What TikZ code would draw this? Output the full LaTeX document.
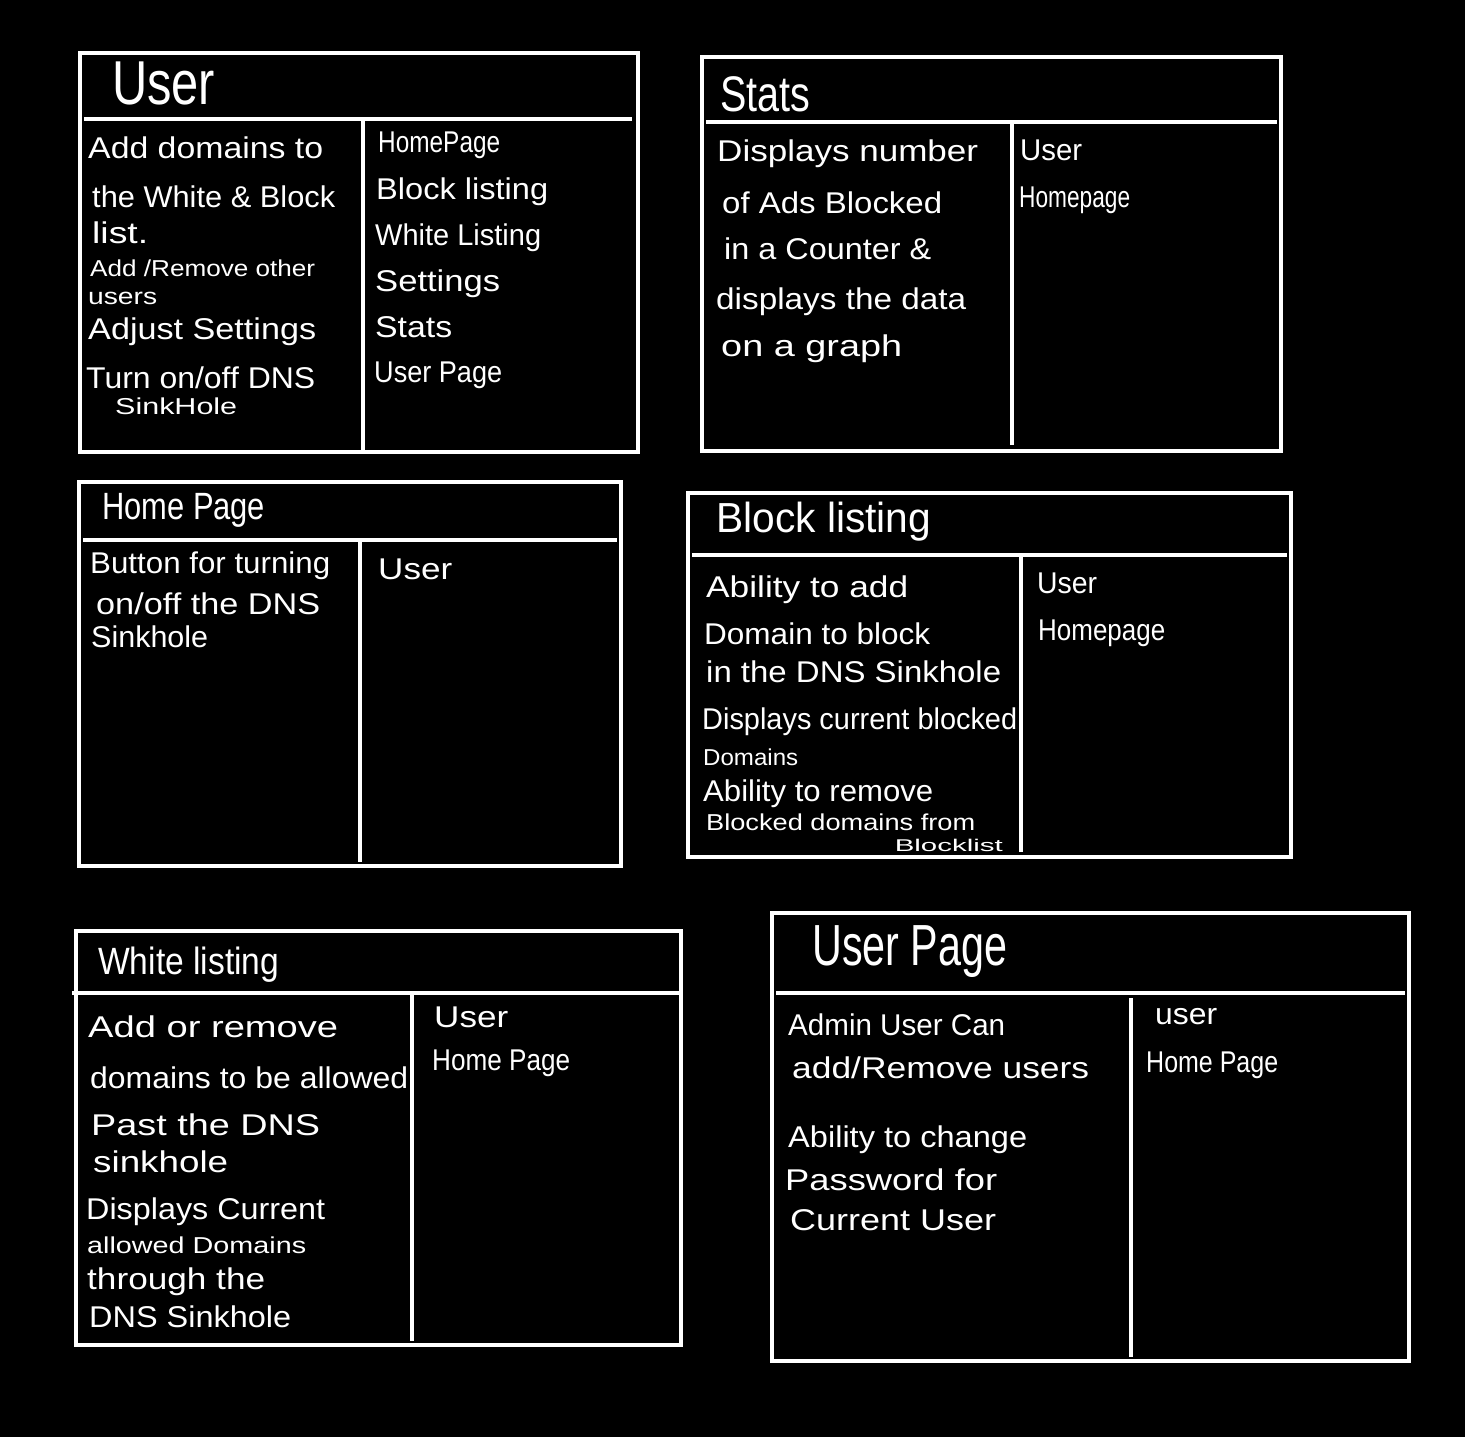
\documentclass[tikz,border=0pt]{standalone}
\usepackage{fontspec}
\usepackage{graphicx}
\setmainfont{Liberation Sans}
\newcommand{\hw}[2]{\resizebox{#1pt}{\height}{#2}}
\begin{document}
\begin{tikzpicture}[x=1pt,y=-1pt,
  card/.style={draw=white, line width=3.5pt},
  rule/.style={draw=white, line width=3.5pt},
  txt/.style={anchor=west, text=white, inner sep=0pt, font=\fontsize{30}{34}\selectfont},
  small/.style={txt, font=\fontsize{23}{26}\selectfont},
  tiny/.style={txt, font=\fontsize{17}{20}\selectfont},
  ttl/.style={anchor=west, text=white, inner sep=0pt}]
\fill[black] (0,0) rectangle (1465,1437);
\useasboundingbox (0,0) rectangle (1465,1437);

% ---------- User ----------
\draw[card] (80,53) rectangle (638,452);
\draw[rule] (84,119) -- (632,119);
\draw[rule] (363,119) -- (363,452);
\node[ttl, font=\fontsize{62}{66}\selectfont] (uT) at (112,83) {\hw{103}{User}};
\node[txt] (u1) at (88,148) {\hw{235}{Add domains to}};
\node[txt] (u2) at (92,197) {\hw{243}{the White \& Block}};
\node[txt] (u3) at (92,233) {\hw{56}{list.}};
\node[small] (u4) at (90,268) {\hw{225}{Add /Remove other}};
\node[small] (u5) at (88,298) {\hw{69}{users}};
\node[txt] (u6) at (88,332) {\hw{228}{Adjust Settings}};
\node[txt] (u7) at (86,378) {\hw{229}{Turn on/off DNS}};
\node[small] (u8) at (115,406) {\hw{122}{SinkHole}};
\node[txt] (ur1) at (378,145) {\hw{122}{HomePage}};
\node[txt] (ur2) at (376,192) {\hw{172}{Block listing}};
\node[txt] (ur3) at (375,238) {\hw{166}{White Listing}};
\node[txt] (ur4) at (375,284) {\hw{125}{Settings}};
\node[txt] (ur5) at (375,327) {\hw{77}{Stats}};
\node[txt] (ur6) at (374,375) {\hw{128}{User Page}};

% ---------- Stats ----------
\draw[card] (702,57) rectangle (1281,451);
\draw[rule] (706,122) -- (1277,122);
\draw[rule] (1012,122) -- (1012,445);
\node[ttl, font=\fontsize{50}{54}\selectfont] (sT) at (720,94) {\hw{90}{Stats}};
\node[txt] (s1) at (717,154) {\hw{261}{Displays number}};
\node[txt] (s2) at (722,203) {\hw{220}{of Ads Blocked}};
\node[txt] (s3) at (724,249) {\hw{207}{in a Counter \&}};
\node[txt] (s4) at (716,302) {\hw{250}{displays the data}};
\node[txt] (s5) at (721,349) {\hw{181}{on a graph}};
\node[txt] (sr1) at (1020,150) {\hw{62}{User}};
\node[txt] (sr2) at (1019,200) {\hw{111}{Homepage}};

% ---------- Home Page ----------
\draw[card] (79,482) rectangle (621,866);
\draw[rule] (83,540) -- (617,540);
\draw[rule] (360,540) -- (360,862);
\node[ttl, font=\fontsize{38}{42}\selectfont] (hT) at (102,510) {\hw{163}{Home Page}};
\node[txt] (h1) at (90,566) {\hw{240}{Button for turning}};
\node[txt] (h2) at (96,604) {\hw{224}{on/off the DNS}};
\node[txt] (h3) at (91,637) {\hw{117}{Sinkhole}};
\node[txt] (hr1) at (378,569) {\hw{74}{User}};

% ---------- Block listing ----------
\draw[card] (688,493) rectangle (1291,857);
\draw[rule] (692,555) -- (1287,555);
\draw[rule] (1021,557) -- (1021,852);
\node[ttl, font=\fontsize{42}{46}\selectfont] (bT) at (716,522) {\hw{215}{Block listing}};
\node[txt] (b1) at (706,590) {\hw{202}{Ability to add}};
\node[txt] (b2) at (704,634) {\hw{226}{Domain to block}};
\node[txt] (b3) at (706,672) {\hw{295}{in the DNS Sinkhole}};
\node[txt] (b4) at (702,722) {\hw{315}{Displays current blocked}};
\node[small] (b5) at (703,757) {\hw{95}{Domains}};
\node[txt] (b6) at (703,794) {\hw{230}{Ability to remove}};
\node[small] (b7) at (706,822) {\hw{269}{Blocked domains from}};
\node[tiny, anchor=east] (b8) at (1003,845) {\hw{108}{Blocklist}};
\node[txt] (br1) at (1037,583) {\hw{60}{User}};
\node[txt] (br2) at (1038,633) {\hw{127}{Homepage}};

% ---------- White listing ----------
\draw[card] (76,931) rectangle (681,1345);
\draw[rule] (72,993) -- (681,993);
\draw[rule] (412,995) -- (412,1341);
\node[ttl, font=\fontsize{38}{42}\selectfont] (wT) at (98,965) {\hw{181}{White listing}};
\node[txt] (w1) at (88,1027) {\hw{250}{Add or remove}};
\node[txt] (w2) at (90,1078) {\hw{318}{domains to be allowed}};
\node[txt] (w3) at (91,1125) {\hw{229}{Past the DNS}};
\node[txt] (w4) at (93,1162) {\hw{135}{sinkhole}};
\node[txt] (w5) at (86,1212) {\hw{239}{Displays Current}};
\node[small] (w6) at (87,1245) {\hw{219}{allowed Domains}};
\node[txt] (w7) at (87,1282) {\hw{178}{through the}};
\node[txt] (w8) at (89,1317) {\hw{202}{DNS Sinkhole}};
\node[txt] (wr1) at (434,1017) {\hw{74}{User}};
\node[txt] (wr2) at (432,1063) {\hw{138}{Home Page}};

% ---------- User Page ----------
\draw[card] (772,913) rectangle (1409,1361);
\draw[rule] (776,993) -- (1405,993);
\draw[rule] (1131,998) -- (1131,1357);
\node[ttl, font=\fontsize{58}{62}\selectfont] (pT) at (812,952) {\hw{195}{User Page}};
\node[txt] (p1) at (788,1025) {\hw{217}{Admin User Can}};
\node[txt] (p2) at (792,1068) {\hw{297}{add/Remove users}};
\node[txt] (p3) at (788,1140) {\hw{239}{Ability to change}};
\node[txt] (p4) at (785,1180) {\hw{212}{Password for}};
\node[txt] (p5) at (790,1220) {\hw{206}{Current User}};
\node[txt] (pr1) at (1155,1017) {\hw{62}{user}};
\node[txt] (pr2) at (1146,1065) {\hw{132}{Home Page}};
\end{tikzpicture}
\end{document}
